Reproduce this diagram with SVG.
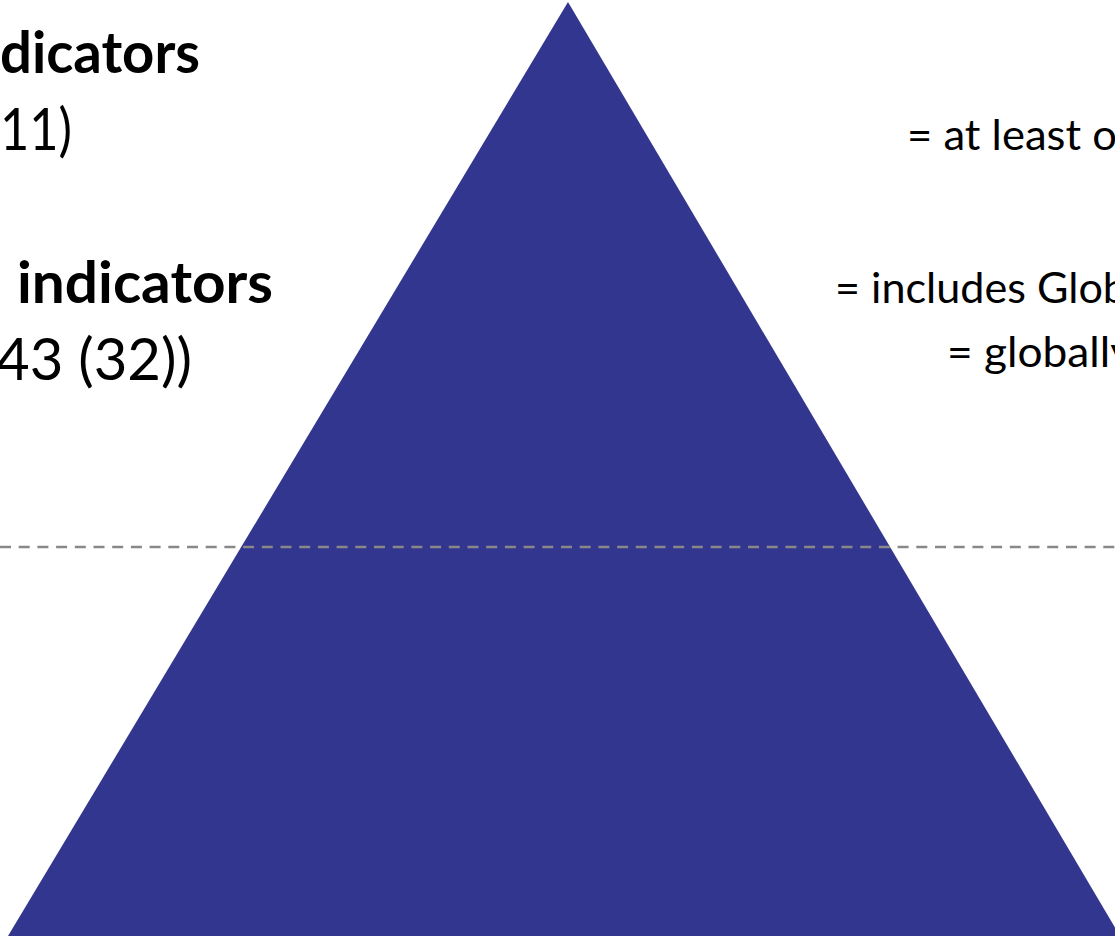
<svg xmlns="http://www.w3.org/2000/svg" width="1115" height="936" viewBox="0 0 1115 936">
<style>
.big{font-family:Lato,"Open Sans","Liberation Sans",sans-serif;font-size:58px;fill:#000}
.b{font-weight:bold}
.leg{font-family:Lato,"Open Sans","Liberation Sans",sans-serif;font-size:43px;fill:#000}
</style>
<rect width="1115" height="936" fill="#fff"/>
<g id="pyramid">
<polygon points="568,2 8,936 1120,936" fill="#33368f"/>
</g>
<g id="connectors">
<line x1="0" y1="547" x2="1115" y2="547" stroke="#888" stroke-width="2.5" stroke-dasharray="11,7.7"/>
</g>
<g id="headline">
<text class="big b" x="0" y="73" textLength="200" lengthAdjust="spacingAndGlyphs">dicators</text>
<text class="big" x="0" y="150" textLength="72" lengthAdjust="spacingAndGlyphs">11)</text>
</g>
<g id="secondary">
<text class="big b" x="17" y="303" textLength="256" lengthAdjust="spacingAndGlyphs">indicators</text>
<text class="big" x="-4" y="380" textLength="196" lengthAdjust="spacingAndGlyphs">43 (32))</text>
</g>
<g id="legend">
<text class="leg" x="907" y="150" textLength="210" lengthAdjust="spacingAndGlyphs">= at least o</text>
<text class="leg" x="835" y="303" textLength="292" lengthAdjust="spacingAndGlyphs">= includes Glob</text>
<text class="leg" x="947" y="367" textLength="186" lengthAdjust="spacingAndGlyphs">= globally</text>
</g>
</svg>
